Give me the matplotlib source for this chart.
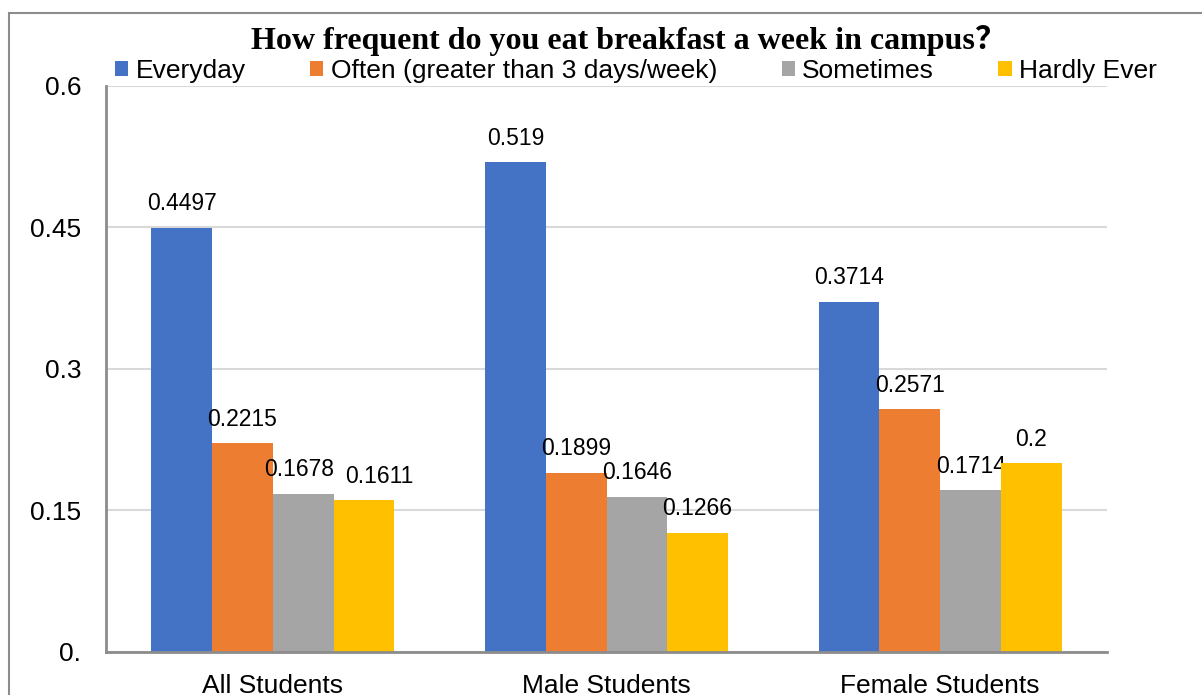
import numpy as np
import matplotlib.pyplot as plt
from matplotlib.patches import Rectangle

groups = ["All Students", "Male Students", "Female Students"]
series = ["Everyday", "Often (greater than 3 days/week)", "Sometimes", "Hardly Ever"]
everyday = [0.4497, 0.519, 0.3714]
often = [0.2215, 0.1899, 0.2571]
sometimes = [0.1678, 0.1646, 0.1714]
hardly = [0.1611, 0.1266, 0.2]
value_labels = [
    ["0.4497", "0.519", "0.3714"],
    ["0.2215", "0.1899", "0.2571"],
    ["0.1678", "0.1646", "0.1714"],
    ["0.1611", "0.1266", "0.2"],
]
yticks = [0, 0.15, 0.3, 0.45, 0.6]
ytick_labels = ["0.", "0.15", "0.3", "0.45", "0.6"]
colors = ["#4472C4", "#ED7D31", "#A5A5A5", "#FFC000"]

plt.rcParams['font.family'] = ['Liberation Sans', 'DejaVu Sans']

fig = plt.figure(figsize=(12.02, 6.95), dpi=100)
ax = fig.add_axes([0.0882, 0.0619, 0.8328, 0.8144])

# outer frame, runs off the right and bottom of the image
fig.patches.append(Rectangle((9 / 1202, -0.1), 1.2, 1.1 - 13 / 695,
                             transform=fig.transFigure, fill=False,
                             edgecolor="#8c8c8c", linewidth=1.5))

# labels nudged sideways so they don't collide (series, group) -> points
nudge = {(3, 0): 11, (2, 0): -3}

x = np.arange(len(groups))
w = 0.182
data = [everyday, often, sometimes, hardly]
for i, (vals, name, c) in enumerate(zip(data, series, colors)):
    pos = x + (i - 1.5) * w
    ax.bar(pos, vals, w, color=c, label=name, zorder=3)
    for j, (px, v, lab) in enumerate(zip(pos, vals, value_labels[i])):
        ax.annotate(lab, (px, v), xytext=(nudge.get((i, j), 0), 9),
                    textcoords="offset points",
                    ha="center", va="bottom", fontsize=16.5)

ax.set_xlim(-0.5, 2.5)
ax.set_ylim(0, 0.6)
ax.set_yticks(yticks)
ax.set_yticklabels(ytick_labels, fontsize=19)
ax.set_xticks(x)
ax.set_xticklabels(groups, fontsize=19)
ax.tick_params(axis="y", length=0, pad=18)
ax.tick_params(axis="x", length=0, pad=16)
ax.grid(axis="y", color="#d9d9d9", linewidth=1.5, zorder=0)
for s in ["top", "right"]:
    ax.spines[s].set_visible(False)
for s in ["left", "bottom"]:
    ax.spines[s].set_color("#8c8c8c")
    ax.spines[s].set_linewidth(2)
    ax.spines[s].set_zorder(4)

fig.text(0.523, 0.942, "How frequent do you eat breakfast a week in campus？",
         ha="center", va="center", fontsize=23, fontweight="bold",
         family=["Liberation Serif", "Noto Sans CJK SC", "DejaVu Sans"])

fig.legend(loc="center", bbox_to_anchor=(0.529, 0.898), ncol=4, frameon=False,
           fontsize=19, handlelength=0.5, handleheight=0.5, handletextpad=0.27,
           columnspacing=2.45, borderpad=0)

fig.savefig("out.png", dpi=100)
